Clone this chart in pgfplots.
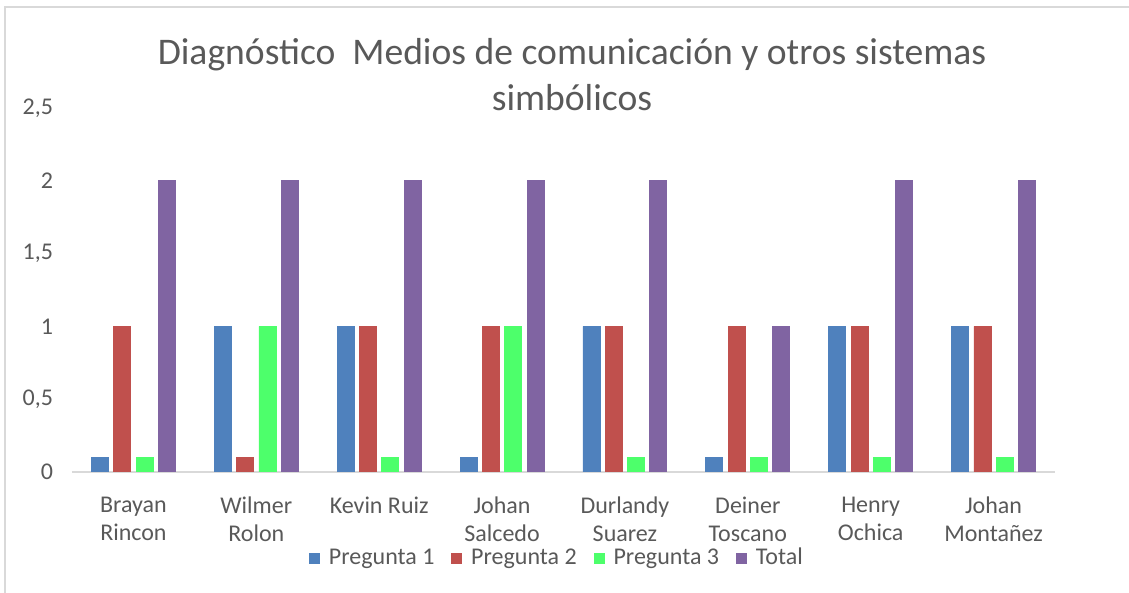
\documentclass[border=0pt]{standalone}
\usepackage{pgfplots}
\pgfplotsset{compat=1.18}
\usepackage{fontspec}
\setmainfont{Carlito}
\definecolor{p1}{HTML}{4F81BD}
\definecolor{p2}{HTML}{C0504D}
\definecolor{p3}{HTML}{4DFF6B}
\definecolor{tot}{HTML}{8064A2}
\definecolor{txt}{HTML}{595959}
\definecolor{axgray}{HTML}{D9D9D9}
\begin{document}
\begin{tikzpicture}
\path[use as bounding box] (0pt,0pt) rectangle (564.5pt,296.5pt);
\draw[axgray, line width=1pt] (2.25pt,0pt) -- (2.25pt,293pt) -- (564.5pt,293pt);
\node[txt, align=center, font=\fontsize{18.8}{23}\selectfont] at (286pt,259pt)
  {Diagnóstico\ \ Medios de comunicación y otros sistemas\\simbólicos};
\begin{axis}[
  at={(36pt,60.5pt)}, anchor=south west,
  scale only axis, width=491.5pt, height=182pt,
  ybar=2.65pt, bar width=8.5pt,
  xmin=-0.5, xmax=7.5, ymin=0, ymax=2.5,
  xtick={0,...,7}, xtick style={draw=none},
  xticklabels={Brayan\\Rincon, Wilmer\\Rolon, Kevin Ruiz, Johan\\Salcedo, Durlandy\\Suarez, Deiner\\Toscano, Henry\\Ochica, Johan\\Montañez},
  xticklabel style={align=center, text=txt, font=\fontsize{12}{14}\selectfont, inner sep=0pt, yshift=-8pt, anchor=north},
  ytick={0,0.5,...,2.5}, ytick style={draw=none},
  yticklabel style={text=txt, font=\fontsize{12}{14}\selectfont, xshift=-6pt},
  /pgf/number format/.cd, use comma, fixed, assume math mode=true, /pgfplots/.cd,
  axis x line*=bottom, axis y line*=left,
  x axis line style={axgray, line width=1pt, -},
  y axis line style={draw=none},
  legend columns=4,
  legend style={draw=none, fill=none, at={(0.4944,-0.236)}, anchor=center,
    font=\fontsize{12}{14}\selectfont, text=txt,
    /tikz/every odd column/.append style={column sep=2.5pt},
    /tikz/every even column/.append style={column sep=6.5pt}},
  legend image code/.code={\fill[#1] (0pt,-2.5pt) rectangle (5pt,2.5pt);},
]
\addplot[fill=p1, draw=p1] coordinates {(0,0.1) (1,1) (2,1) (3,0.1) (4,1) (5,0.1) (6,1) (7,1)};
\addplot[fill=p2, draw=p2] coordinates {(0,1) (1,0.1) (2,1) (3,1) (4,1) (5,1) (6,1) (7,1)};
\addplot[fill=p3, draw=p3] coordinates {(0,0.1) (1,1) (2,0.1) (3,1) (4,0.1) (5,0.1) (6,0.1) (7,0.1)};
\addplot[fill=tot, draw=tot] coordinates {(0,2) (1,2) (2,2) (3,2) (4,2) (5,1) (6,2) (7,2)};
\legend{Pregunta 1, Pregunta 2, Pregunta 3, Total}
\end{axis}
\end{tikzpicture}
\end{document}
